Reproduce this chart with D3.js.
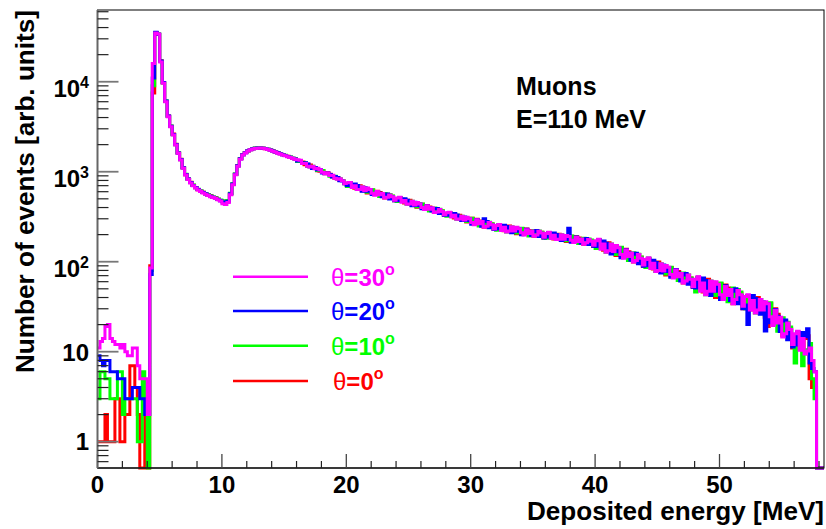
<!DOCTYPE html>
<html><head><meta charset="utf-8">
<script src="https://cdn.jsdelivr.net/npm/d3@7"></script>
<style>
body{margin:0;background:#fff}
svg{display:block}
text{font-family:"Liberation Sans",Arial,Helvetica,sans-serif;font-weight:bold}
</style>
</head><body>
<svg id="c" width="826" height="529"></svg>
<script>
// ---------------- data ----------------
const binWidth = 0.2;          // MeV
const xMin = 0, xMax = 58.4;   // MeV
const yMin = 0.51, yMax = 62700;
const xTickValues = [0, 10, 20, 30, 40, 50];
const yTickValues = [1, 10, 100, 1000, 10000];
const yTickBase = ["1", "10", "10", "10", "10"];
const yTickSup = ["", "", "2", "3", "4"];
const seriesNames = ["θ=0", "θ=10", "θ=20", "θ=30"];
const seriesColors = ["#ff0000", "#00ff00", "#0000ff", "#ff00ff"];
const infoLines = ["Muons", "E=110 MeV"];
const xTitle = "Deposited energy [MeV]";
const yTitle = "Number of events [arb. units]";

const theta0 = [
1,1,1,2,1,1,1,3,3,1,
1,2,2,7,7,4,2,0,0,3,
0,90,7500,35000,33600,17100,9750,6050,4160,3210,
2620,2020,1610,1375,1105,928,832,765,708,670,
632,610,592,566,552,540,522,515,495,480,
470,465,472,565,725,935,1170,1400,1550,1635,
1704,1755,1795,1820,1830,1842,1826,1802,1772,1745,
1706,1662,1626,1584,1552,1512,1482,1448,1415,1382,
1320,1335,1280,1196,1208,1185,1093,1100,1028,1011,
1027,958,973,937,882,844,860,804,797,733,
708,753,717,655,693,699,616,645,582,585,
627,571,608,588,538,512,561,515,534,477,
484,515,493,450,477,482,424,445,403,405,
435,395,422,406,371,353,386,355,366,328,
331,353,337,307,327,329,291,305,276,278,
304,269,297,284,255,241,274,248,263,228,
233,258,246,221,243,249,214,230,205,209,
234,210,231,222,201,192,219,199,212,184,
190,210,200,179,198,202,175,189,168,173,
192,171,189,183,165,156,179,163,172,149,
151,175,162,134,156,162,126,142,117,121,
144,118,138,129,108,99,122,103,112,89,
92,109,99,83,97,99,76,86,71,72,
86,71,82,78,65,58,72,60,66,52,
52,67,60,46,59,64,44,54,40,43,
57,43,55,51,40,34,49,39,45,30,
33,42,38,29,37,40,27,33,24,19,
34,23,30,26,18,15,22,16,18,11,
12,16.5,14,10.4,14,15,5,4,4,0,
0,0];

const theta10 = [
3,6,6,5,5,3,3,3,6,6,
2,3,3,3,3,3,1,1,6,2,
0,80,9000,35200,34200,16900,9700,6150,4120,3230,
2580,2000,1630,1360,1100,935,826,758,712,665,
640,612,590,570,555,538,525,512,498,485,
475,470,478,575,735,945,1160,1390,1540,1640,
1708,1765,1805,1832,1845,1838,1830,1812,1775,1748,
1698,1668,1618,1592,1545,1520,1472,1455,1408,1390,
1300,1331,1254,1247,1154,1133,1150,1103,1035,1045,
1030,947,954,890,879,893,830,835,799,745,
686,749,689,711,633,639,680,649,590,625,
631,557,584,530,534,574,523,557,538,491,
468,513,473,488,435,440,470,447,409,433,
437,385,406,366,369,395,360,383,368,338,
321,351,323,335,297,301,321,307,280,296,
305,261,281,249,253,281,250,275,264,237,
224,256,232,246,214,220,244,233,209,230,
236,202,218,193,199,222,200,220,213,192,
182,209,189,202,176,180,199,190,171,189,
193,166,180,159,163,182,163,179,174,156,
140,174,147,162,127,135,157,144,120,140,
145,112,127,103,107,126,105,121,113,95,
86,107,90,100,78,82,95,87,73,84,
87,67,76,62,64,75,61,71,66,56,
46,66,53,62,43,48,61,55,42,54,
58,39,49,36,39,51,39,49,46,34,
30,42,33,39,27,30,38,33,25,33,
35,20.8,25.8,16.9,17.9,23.9,16.2,21.3,18.8,13.1,
7.5,16.2,12,7,9.4,10.5,12.3,5,3,0,
0,0];

const theta20 = [
9,8,7,8,8,6,6,6,5,5,
5,3,3,3,4,4,4,3,3,2,
2,72,11000,35500,33800,17000,9800,6100,4150,3200,
2600,2010,1620,1370,1110,930,830,760,705,668,
635,608,586,568,548,535,520,508,492,476,
462,458,470,570,730,940,1165,1395,1545,1630,
1712,1760,1800,1825,1835,1840,1822,1808,1780,1742,
1702,1660,1622,1588,1548,1515,1478,1450,1410,1385,
1316,1335,1250,1262,1215,1133,1086,1116,1050,1049,
970,955,971,929,874,883,865,792,790,733,
704,753,685,729,701,639,608,663,608,629,
559,567,604,578,528,560,567,499,526,477,
480,515,469,500,483,440,420,457,421,437,
389,393,420,400,365,387,390,343,360,328,
329,353,321,343,331,301,287,313,288,298,
261,268,294,278,248,300,279,238,256,228,
232,258,230,254,246,220,210,239,218,231,
200,208,229,217,196,216,222,191,207,184,
188,210,188,208,201,180,172,195,177,235,
165,171,188,178,160,175,181,155,167,149,
148,175,146,170,160,135,122,151,129,141,
111,117,136,126,104,121,124,95,108,89,
91,109,89,104,98,82,75,92,78,86,
67,70,82,75,61,71,74,56,64,52,
51,67,52,66,62,48,42,59,47,55,
38,42,54,49,37,47,50,34,42,30,
33,20,32,42,39,30,26,36,17,34,
21,22.8,29.4,24.8,16.8,21.9,22.5,13.6,17.2,11.3,
11.9,16.5,11.7,16.3,14.7,18,7.5,6.5,6,0,
0,0];

const theta30 = [
11,13,14,19,20,14,13,12,12,11,
12,10,9,9,11,11,7,5,5,5,
2,85,16000,34700,34000,16600,9600,6000,4080,3160,
2560,1980,1600,1350,1090,920,820,750,700,660,
628,602,580,562,545,528,516,503,488,472,
440,432,455,555,715,925,1150,1380,1530,1620,
1700,1752,1788,1812,1822,1830,1818,1796,1768,1735,
1690,1655,1608,1578,1535,1505,1468,1442,1402,1376,
1360,1339,1235,1236,1154,1129,1150,1077,1092,1052,
985,941,968,910,911,844,827,833,792,738,
752,757,667,699,633,635,680,617,658,633,
577,549,602,554,574,512,519,553,528,483,
512,519,457,480,435,438,470,427,455,439,
401,381,418,382,397,353,356,381,362,332,
351,355,313,329,297,299,321,291,312,300,
272,257,293,264,279,241,248,272,258,231,
253,259,222,241,214,219,244,219,241,233,
210,198,227,206,219,192,198,218,208,187,
206,212,181,197,176,178,199,178,196,191,
173,163,186,168,179,156,162,177,169,152,
171,178,138,157,127,132,157,130,151,143,
120,109,135,114,125,99,103,120,109,92,
106,110,84,96,78,80,95,79,91,87,
72,66,81,68,74,58,61,71,64,53,
64,68,47,58,43,47,61,47,60,56,
43,38,53,42,49,34,38,48,43,32,
41,43,29,37,27,29,38,29,36,34,
24.5,19.5,28.8,20.8,24.2,14.6,15.8,20.8,17.6,12,
15.8,16.9,10.4,14,9.4,10.2,11,8,6,0,
0,0];

const seriesData = [theta0, theta10, theta20, theta30];

// ---------------- drawing ----------------
const svg = d3.select("#c");
const L = 97.5, R = 824, T = 10, B = 468;
const x = d3.scaleLinear().domain([xMin, xMax]).range([L, R]);
const y = d3.scaleLog().domain([yMin, yMax]).range([B, T]);

svg.append("rect").attr("width", 826).attr("height", 529).attr("fill", "#fff");

// histograms (step lines)
const line = d3.line()
  .x(d => x(d[0]))
  .y(d => d[1] > yMin ? y(d[1]) : B)
  .curve(d3.curveStepAfter);

seriesData.forEach((vals, si) => {
  const pts = vals.map((v, i) => [xMin + i * binWidth, v]);
  pts.push([xMin + vals.length * binWidth, vals[vals.length - 1]]);
  svg.append("path")
    .attr("d", line(pts))
    .attr("fill", "none")
    .attr("stroke", seriesColors[si])
    .attr("stroke-width", 3)
    .attr("stroke-linejoin", "miter");
});

// frame
svg.append("rect").attr("x", L).attr("y", T).attr("width", R - L).attr("height", B - T)
  .attr("fill", "none").attr("stroke", "#000").attr("stroke-width", 1);

// x axis
const xMinor = d3.range(2, xMax, 2).filter(v => v % 10 !== 0);
const gx = svg.append("g");
gx.append("line").attr("x1", L).attr("x2", R).attr("y1", B).attr("y2", B)
  .attr("stroke", "#222").attr("stroke-width", 1.5);
gx.selectAll(".xM").data(xTickValues).join("line")
  .attr("x1", d => x(d)).attr("x2", d => x(d)).attr("y1", B).attr("y2", B - 14)
  .attr("stroke", "#444").attr("stroke-width", 1.3);
gx.selectAll(".xm").data(xMinor).join("line")
  .attr("x1", d => x(d)).attr("x2", d => x(d)).attr("y1", B).attr("y2", B - 7)
  .attr("stroke", "#222").attr("stroke-width", 1.2);
gx.selectAll(".xl").data(xTickValues).join("text")
  .attr("x", d => x(d)).attr("y", 493).attr("text-anchor", "middle")
  .attr("font-size", 24).attr("fill", "#000").text(d => d);

// y axis
const yMinor = [];
for (let e = -1; e <= 4; e++) for (let k = 2; k <= 9; k++) {
  const v = k * Math.pow(10, e);
  if (v > yMin && v < yMax) yMinor.push(v);
}
const gy = svg.append("g");
gy.append("line").attr("x1", L).attr("x2", L).attr("y1", T).attr("y2", B)
  .attr("stroke", "#666").attr("stroke-width", 2);
gy.selectAll(".yM").data(yTickValues).join("line")
  .attr("x1", L).attr("x2", L + 21).attr("y1", d => y(d)).attr("y2", d => y(d))
  .attr("stroke", "#777").attr("stroke-width", 1.8);
gy.selectAll(".ym").data(yMinor).join("line")
  .attr("x1", L).attr("x2", L + 11).attr("y1", d => y(d)).attr("y2", d => y(d))
  .attr("stroke", "#222").attr("stroke-width", 1.2);
yTickValues.forEach((v, i) => {
  const hasSup = yTickSup[i] !== "";
  const t = svg.append("text").attr("x", 89).attr("text-anchor", "end")
    .attr("font-size", 24).attr("fill", "#000")
    .attr("y", y(v) + (hasSup ? 15.5 : (v === 1 ? 8.5 : 9.5)));
  t.append("tspan").text(yTickBase[i]);
  if (hasSup) t.append("tspan").attr("font-size", 16).attr("dy", -9.5).text(yTickSup[i]);
});

// titles
svg.append("text").attr("x", 824).attr("y", 520).attr("text-anchor", "end")
  .attr("font-size", 25).attr("textLength", 297).attr("lengthAdjust", "spacingAndGlyphs")
  .attr("fill", "#000").text(xTitle);
svg.append("text").attr("transform", "translate(34,10) rotate(-90)")
  .attr("text-anchor", "end").attr("font-size", 25)
  .attr("textLength", 363).attr("lengthAdjust", "spacingAndGlyphs")
  .attr("fill", "#000").text(yTitle);

// info text
infoLines.forEach((s, i) => {
  svg.append("text").attr("x", 516).attr("y", 95 + i * 33).attr("font-size", 25)
    .attr("fill", "#000").text(s);
});

// legend
const legendOrder = [3, 2, 1, 0];
const legendY = [276.7, 311, 345.7, 381];
legendOrder.forEach((si, r) => {
  const ly = legendY[r];
  svg.append("line").attr("x1", 233).attr("x2", 308).attr("y1", ly).attr("y2", ly)
    .attr("stroke", seriesColors[si]).attr("stroke-width", 2.5);
  const t = svg.append("text").attr("x", si === 0 ? 333 : 331).attr("y", ly + 9)
    .attr("font-size", 24).attr("fill", seriesColors[si]);
  t.append("tspan").attr("font-weight", "normal").text(seriesNames[si].slice(0, 1));
  t.append("tspan").text(seriesNames[si].slice(1));
  t.append("tspan").attr("font-size", 16).attr("dy", -11).text("o");
});
</script>
</body></html>
